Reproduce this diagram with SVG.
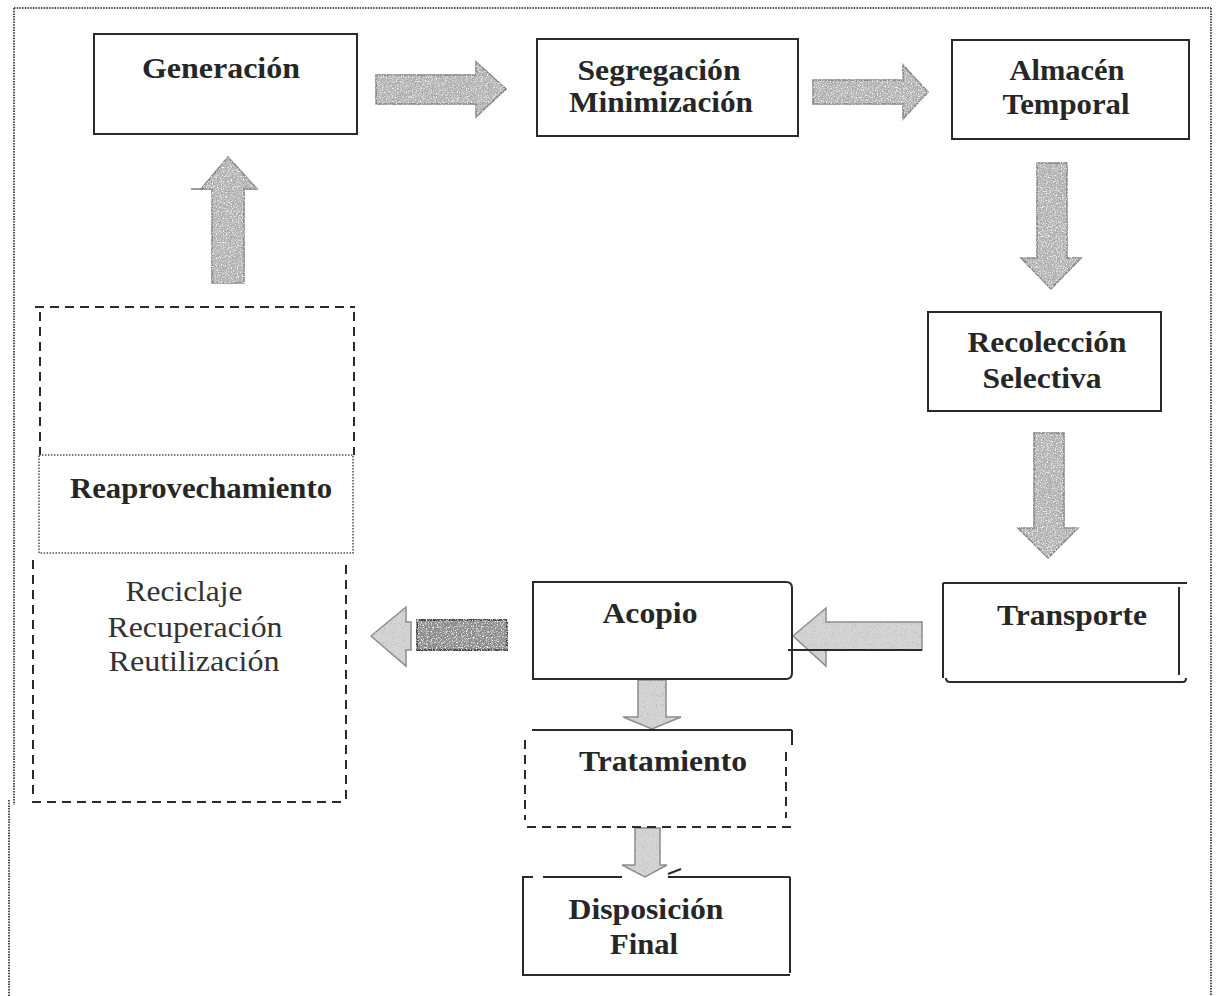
<svg xmlns="http://www.w3.org/2000/svg" width="1219" height="996" viewBox="0 0 1219 996">
  <style>
    .box { fill: #ffffff; stroke: #2a2a2a; stroke-width: 2; }
    .line { fill: none; stroke: #2a2a2a; stroke-width: 2; }
    .dash { fill: none; stroke: #2a2a2a; stroke-width: 2; stroke-dasharray: 9 6; }
    .dot { fill: none; stroke: #555555; stroke-width: 1.6; stroke-dasharray: 1.5 1.5; }
    .frame { fill: none; stroke: #4e4e4e; stroke-width: 2; stroke-dasharray: 1.5 1.2; }
    .lbl { font-family: "Liberation Serif", "Times New Roman", serif; font-weight: bold; font-size: 30px; fill: #262626; text-anchor: middle; }
    .sub { font-family: "Liberation Serif", "Times New Roman", serif; font-size: 30px; fill: #333333; text-anchor: middle; }
    .arrow { fill: #bababa; stroke: #7c7c7c; stroke-width: 1.5; filter: url(#grain); }
    .arrow-light { fill: #d4d4d4; stroke: #8a8a8a; stroke-width: 1.5; filter: url(#grain-soft); }
    .arrow-dark { fill: #8a8a8a; stroke: #3a3a3a; stroke-width: 2; filter: url(#grain); }
  </style>
  <defs>
    <!-- speckled fill for the block arrows -->
    <filter id="grain" x="-5%" y="-5%" width="110%" height="110%">
      <feTurbulence type="fractalNoise" baseFrequency="0.8" numOctaves="2" seed="7" result="noise"/>
      <feColorMatrix in="noise" type="matrix" values="0 0 0 0 0.35  0 0 0 0 0.35  0 0 0 0 0.35  4 0 0 0 -1.9" result="dark"/>
      <feColorMatrix in="noise" type="matrix" values="0 0 0 0 0.92  0 0 0 0 0.92  0 0 0 0 0.92  0 -4 0 0 1.9" result="light"/>
      <feMerge result="spots">
        <feMergeNode in="dark"/>
        <feMergeNode in="light"/>
      </feMerge>
      <feComposite in="spots" in2="SourceAlpha" operator="in" result="clipped"/>
      <feMerge>
        <feMergeNode in="SourceGraphic"/>
        <feMergeNode in="clipped"/>
      </feMerge>
    </filter>
    <filter id="grain-soft" x="-5%" y="-5%" width="110%" height="110%">
      <feTurbulence type="fractalNoise" baseFrequency="0.9" numOctaves="2" seed="3" result="noise"/>
      <feColorMatrix in="noise" type="matrix" values="0 0 0 0 0.45  0 0 0 0 0.45  0 0 0 0 0.45  4 0 0 0 -2.3" result="dark"/>
      <feComposite in="dark" in2="SourceAlpha" operator="in" result="clipped"/>
      <feMerge>
        <feMergeNode in="SourceGraphic"/>
        <feMergeNode in="clipped"/>
      </feMerge>
    </filter>
  </defs>

  <rect width="1219" height="996" fill="#ffffff"/>

  <!-- page frame -->
  <g id="frame">
    <line class="frame" x1="14" y1="8" x2="1211" y2="8"/>
    <line class="frame" x1="14" y1="8" x2="14" y2="805"/>
    <line class="frame" x1="9" y1="800" x2="9" y2="996"/>
    <line class="frame" x1="1211" y1="8" x2="1211" y2="996"/>
  </g>

  <!-- connectors -->
  <g id="connectors">
    <polygon class="arrow" points="376,75 476,75 476,62 506,89 476,117 476,104 376,104"/>
    <polygon class="arrow" points="813,80 903,80 903,65 928,92 903,119 903,104 813,104"/>
    <polygon class="arrow" points="1037,163 1067,163 1067,258 1081,258 1051,289 1021,258 1037,258"/>
    <polygon class="arrow" points="1034,433 1064,433 1064,528 1078,528 1048,558 1018,528 1034,528"/>
    <polygon class="arrow-light" points="922,622 826,622 826,608 793,636 826,666 826,650 922,650"/>
    <line x1="788" y1="650" x2="922" y2="650" stroke="#2a2a2a" stroke-width="2"/>
    <polygon class="arrow-light" points="371,636 406,607 406,622 411,622 411,650 406,650 406,666"/>
    <rect class="arrow-dark" x="417" y="620" width="90" height="30"/>
    <polygon class="arrow" points="212,283 212,189 201,189 228,157 257,189 244,189 244,283"/>
    <line x1="191" y1="189" x2="203" y2="189" stroke="#7c7c7c" stroke-width="1.5"/>
    <polygon class="arrow-light" points="638,680 666,680 666,717 681,717 652,729 623,717 638,717"/>
    <polygon class="arrow-light" points="635,828 660,828 660,865 667,865 645,877 622,865 635,865"/>
    <polyline points="668,874 681,869" fill="none" stroke="#2a2a2a" stroke-width="2"/>
  </g>

  <g id="generacion">
    <rect class="box" x="94" y="34" width="263" height="100"/>
    <text class="lbl" x="221" y="78" textLength="158" lengthAdjust="spacingAndGlyphs">Generación</text>
  </g>

  <g id="segregacion">
    <rect class="box" x="537" y="39" width="261" height="97"/>
    <text class="lbl" x="659" y="80" textLength="163" lengthAdjust="spacingAndGlyphs">Segregación</text>
    <text class="lbl" x="661" y="112" textLength="184" lengthAdjust="spacingAndGlyphs">Minimización</text>
  </g>

  <g id="almacen">
    <rect class="box" x="952" y="40" width="237" height="99"/>
    <text class="lbl" x="1067" y="80" textLength="115" lengthAdjust="spacingAndGlyphs">Almacén</text>
    <text class="lbl" x="1066" y="114" textLength="127" lengthAdjust="spacingAndGlyphs">Temporal</text>
  </g>

  <g id="recoleccion">
    <rect class="box" x="928" y="312" width="233" height="99"/>
    <text class="lbl" x="1047" y="352" textLength="159" lengthAdjust="spacingAndGlyphs">Recolección</text>
    <text class="lbl" x="1042" y="388" textLength="119" lengthAdjust="spacingAndGlyphs">Selectiva</text>
  </g>

  <g id="transporte">
    <line class="line" x1="943" y1="583" x2="1187" y2="583"/>
    <line class="line" x1="943" y1="583" x2="943" y2="678"/>
    <line class="line" x1="1179" y1="587" x2="1179" y2="675"/>
    <path class="line" d="M946,678 Q946,682 950,682 L1183,682 Q1186,682 1186,678"/>
    <text class="lbl" x="1072" y="625" textLength="150" lengthAdjust="spacingAndGlyphs">Transporte</text>
  </g>

  <g id="acopio">
    <path class="line" d="M786,582 L533,582 L533,679 L786,679"/>
    <path class="line" d="M786,582 Q792,582 792,588 L792,673 Q792,679 786,679"/>
    <text class="lbl" x="650" y="623" textLength="95" lengthAdjust="spacingAndGlyphs">Acopio</text>
  </g>

  <g id="tratamiento">
    <line class="line" x1="532" y1="730" x2="792" y2="730"/>
    <line class="line" x1="792" y1="730" x2="792" y2="745"/>
    <line class="dash" x1="525" y1="740" x2="525" y2="820"/>
    <line class="dash" x1="786" y1="752" x2="786" y2="818"/>
    <line class="dash" x1="527" y1="827" x2="792" y2="827"/>
    <text class="lbl" x="663" y="771" textLength="168" lengthAdjust="spacingAndGlyphs">Tratamiento</text>
  </g>

  <g id="disposicion">
    <line class="line" x1="543" y1="877" x2="622" y2="877"/>
    <line class="line" x1="668" y1="877" x2="790" y2="877"/>
    <path class="line" d="M533,877 L523,877 L523,975 L530,975"/>
    <line class="line" x1="790" y1="877" x2="790" y2="973"/>
    <line class="line" x1="527" y1="975" x2="790" y2="975"/>
    <text class="lbl" x="646" y="919" textLength="155" lengthAdjust="spacingAndGlyphs">Disposición</text>
    <text class="lbl" x="644" y="954" textLength="68" lengthAdjust="spacingAndGlyphs">Final</text>
  </g>

  <g id="reaprovechamiento">
    <line class="dash" x1="35" y1="307" x2="355" y2="307"/>
    <line class="dash" x1="40" y1="312" x2="40" y2="455"/>
    <line class="dash" x1="354" y1="312" x2="354" y2="455"/>
    <rect class="dot" x="39" y="455" width="314" height="98"/>
    <line class="dash" x1="33" y1="560" x2="33" y2="800"/>
    <line class="dash" x1="346" y1="565" x2="346" y2="800"/>
    <line class="dash" x1="32" y1="802" x2="347" y2="802"/>
    <text class="lbl" x="201" y="498" textLength="262" lengthAdjust="spacingAndGlyphs">Reaprovechamiento</text>
    <text class="sub" x="184" y="601" textLength="117" lengthAdjust="spacingAndGlyphs">Reciclaje</text>
    <text class="sub" x="195" y="637" textLength="175" lengthAdjust="spacingAndGlyphs">Recuperación</text>
    <text class="sub" x="194" y="671" textLength="171" lengthAdjust="spacingAndGlyphs">Reutilización</text>
  </g>
</svg>
